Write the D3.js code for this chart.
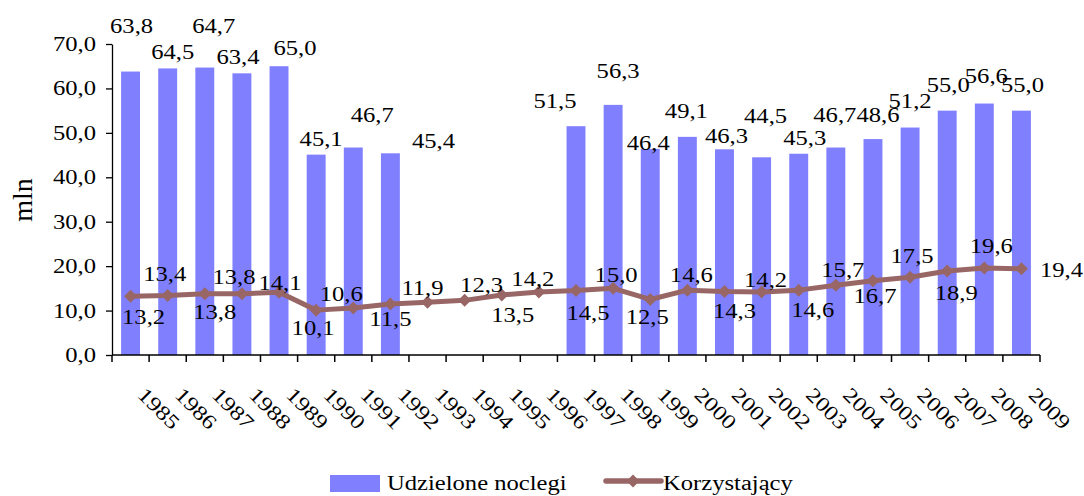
<!DOCTYPE html>
<html>
<head>
<meta charset="utf-8">
<script src="https://cdn.jsdelivr.net/npm/d3@7"></script>
<style>
    body { margin: 0; background: #fff; }
    text { font-family: "Liberation Serif", "Times New Roman", serif; font-size: 20.5px; fill: #000; }
</style>
</head>
<body>
<svg id="svg"></svg>
<script>
const years = ["1985", "1986", "1987", "1988", "1989", "1990", "1991", "1992", "1993", "1994",
    "1995", "1996", "1997", "1998", "1999", "2000", "2001", "2002", "2003", "2004",
    "2005", "2006", "2007", "2008", "2009"];

// Udzielone noclegi (no data 1993-1996)
const nights = [63.8, 64.5, 64.7, 63.4, 65.0, 45.1, 46.7, 45.4, null, null,
    null, null, 51.5, 56.3, 46.4, 49.1, 46.3, 44.5, 45.3, 46.7,
    48.6, 51.2, 55.0, 56.6, 55.0];

// Korzystający
const guests = [13.2, 13.4, 13.8, 13.8, 14.1, 10.1, 10.6, 11.5, 11.9, 12.3,
    13.5, 14.2, 14.5, 15.0, 12.5, 14.6, 14.3, 14.2, 14.6, 15.7,
    16.7, 17.5, 18.9, 19.6, 19.4];

const yTicks = [0, 10, 20, 30, 40, 50, 60, 70];
const seriesNames = ["Udzielone noclegi", "Korzystający"];

// where the labels were dragged to in the original (px, from bar top / marker)
const barLabelNudge = [[1, -46], [5, -16], [9, -42], [-4, -16], [16, -18], [5, -16], [19, -32], [43, -12],
    null, null, null, null,
    [-21, -25], [5, -34], [-2, -6], [-1, -26], [2, -13], [4, -41], [6, -16], [-1, -32],
    [5, -24], [0, -26], [1, -26], [2, -28], [1, -26]];
const lineLabelNudge = [[13, 21], [-3, -21], [10, 18], [-8, -17], [1, -9], [-3, 18], [-12, -14], [0, 15],
    [-5, -14], [17, -15], [11, 20], [-6, -13], [12, 22], [3, -13], [-3, 18], [4, -15],
    [10, 20], [4, -12], [14, 20], [7, -15], [2, 15], [2, -21], [9, 22], [7, -22], [40, 1]];

let width = 1084;
let height = 496;
let barColor = "#8080ff";
let lineColor = "#996666";
let stretchX = 1.2; // the original text is a bit wider than Times

let svg = d3.select("#svg").attr("width", width).attr("height", height);

let x = d3.scaleBand().domain(years).range([112, 1040]).paddingInner(0.49).paddingOuter(0.245);
let y = d3.scaleLinear().domain([0, 70]).range([355, 44]);

let fmt = v => d3.format(".1f")(v).replace(".", ",");
let cx = d => x(d) + x.bandwidth() / 2;

function stretch(sel) {
    sel.each(function () {
        let len = this.getComputedTextLength();
        d3.select(this).attr("textLength", len * stretchX).attr("lengthAdjust", "spacingAndGlyphs");
    });
}

// bars
let barData = years.map((yr, i) => ({ year: yr, v: nights[i], i: i })).filter(d => d.v !== null);

svg.append("g").selectAll("rect")
    .data(barData)
    .join("rect")
    .attr("x", d => x(d.year))
    .attr("y", d => y(d.v))
    .attr("width", x.bandwidth())
    .attr("height", d => y(0) - y(d.v))
    .attr("fill", barColor);

// y axis
let yAxis = svg.append("g")
    .attr("transform", "translate(112,0)")
    .call(d3.axisLeft(y).tickValues(yTicks).tickFormat(fmt).tickSize(6).tickSizeOuter(0).tickPadding(10));
yAxis.select(".domain").attr("stroke", "#000").attr("stroke-width", 1.3);
yAxis.selectAll(".tick line").attr("stroke", "#000").attr("stroke-width", 1.3);
yAxis.selectAll("text").attr("font-family", null).attr("font-size", null);
stretch(yAxis.selectAll("text"));

svg.append("text")
    .attr("transform", "translate(32,200) rotate(-90)")
    .attr("text-anchor", "middle")
    .style("font-size", "28px")
    .text("mln");

// x axis
let pad = x.step() * x.paddingInner() / 2;
let xa = svg.append("g");
xa.append("line")
    .attr("x1", x.range()[0]).attr("x2", x.range()[1])
    .attr("y1", y(0)).attr("y2", y(0))
    .attr("stroke", "#000").attr("stroke-width", 1.5);
let bounds = years.map(d => x(d) - pad).concat([x.range()[1]]);
xa.selectAll(".xt")
    .data(bounds)
    .join("line")
    .attr("class", "xt")
    .attr("x1", d => d).attr("x2", d => d)
    .attr("y1", y(0)).attr("y2", y(0) + 7)
    .attr("stroke", "#000").attr("stroke-width", 1.5);
let xl = xa.selectAll(".xl")
    .data(years)
    .join("text")
    .attr("class", "xl")
    .attr("transform", d => "translate(" + (cx(d) + 6) + ",396) rotate(45)")
    .text(d => d);
stretch(xl);

// line series
let lineData = years.map((yr, i) => ({ year: yr, v: guests[i], i: i }));

svg.append("path")
    .datum(lineData)
    .attr("fill", "none")
    .attr("stroke", lineColor)
    .attr("stroke-width", 5)
    .attr("stroke-linejoin", "round")
    .attr("d", d3.line().x(d => cx(d.year)).y(d => y(d.v)));

let diamond = "M0,-6.5L6.5,0L0,6.5L-6.5,0Z";

svg.append("g").selectAll("path")
    .data(lineData)
    .join("path")
    .attr("d", diamond)
    .attr("transform", d => "translate(" + cx(d.year) + "," + y(d.v) + ")")
    .attr("fill", lineColor);

// value labels
let bl = svg.append("g").selectAll("text")
    .data(barData)
    .join("text")
    .attr("text-anchor", "middle")
    .attr("x", d => cx(d.year) + barLabelNudge[d.i][0])
    .attr("y", d => y(d.v) + barLabelNudge[d.i][1])
    .attr("dy", "0.34em")
    .text(d => fmt(d.v));
stretch(bl);

let ll = svg.append("g").selectAll("text")
    .data(lineData)
    .join("text")
    .attr("text-anchor", "middle")
    .attr("x", d => cx(d.year) + lineLabelNudge[d.i][0])
    .attr("y", d => y(d.v) + lineLabelNudge[d.i][1])
    .attr("dy", "0.34em")
    .text(d => fmt(d.v));
stretch(ll);

// legend
let legend = svg.append("g");
legend.append("rect")
    .attr("x", 330).attr("y", 475).attr("width", 50).attr("height", 17)
    .attr("fill", barColor);
stretch(legend.append("text").attr("x", 387).attr("y", 490).text(seriesNames[0]));

legend.append("line")
    .attr("x1", 606).attr("x2", 661).attr("y1", 481).attr("y2", 481)
    .attr("stroke", lineColor).attr("stroke-width", 5.5).attr("stroke-linecap", "round");
legend.append("path")
    .attr("d", diamond)
    .attr("transform", "translate(633,481)")
    .attr("fill", lineColor);
stretch(legend.append("text").attr("x", 663).attr("y", 490).text(seriesNames[1]));
</script>
</body>
</html>
